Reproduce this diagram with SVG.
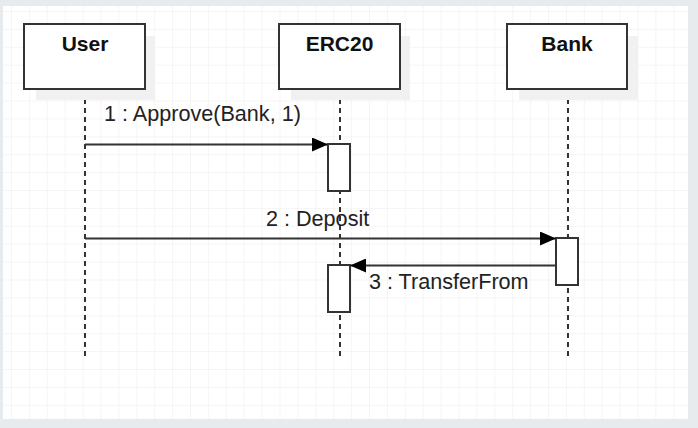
<svg xmlns="http://www.w3.org/2000/svg" width="698" height="428" viewBox="0 0 698 428">
  <defs>
    <pattern id="grid" x="11" y="11" width="17.9" height="17.9" patternUnits="userSpaceOnUse">
      <path d="M 0 0 L 17.9 0 M 0 0 L 0 17.9" fill="none" stroke="#ececec" stroke-width="1"/>
    </pattern>
    <marker id="arrow" viewBox="0 0 16 14" refX="16" refY="7" markerWidth="16" markerHeight="14" markerUnits="userSpaceOnUse" orient="auto">
      <path d="M 0 0 L 16 7 L 0 14 Z" fill="#000"/>
    </marker>
  </defs>
  <style>
    .box { fill: #fff; stroke: #333; stroke-width: 2; }
    .shadow { fill: #f1f1f1; }
    .title { font-family: "Liberation Sans", Arial, sans-serif; font-size: 21px; font-weight: bold; fill: #111; text-anchor: middle; }
    .lifeline { stroke: #333; stroke-width: 2; stroke-dasharray: 5 4; fill: none; }
    .act { fill: #fff; stroke: #333; stroke-width: 2; }
    .msg { stroke: #333; stroke-width: 2; fill: none; marker-end: url(#arrow); }
    .label { font-family: "Liberation Sans", Arial, sans-serif; font-size: 21.6px; fill: #222; }
  </style>
  <rect x="0" y="0" width="698" height="428" fill="#e8ebee"/>
  <rect x="3" y="6" width="685" height="413" fill="#fff"/>
  <rect x="3" y="6" width="685" height="413" fill="url(#grid)"/>

  <g id="lifelines">
    <line class="lifeline" x1="85" y1="90" x2="85" y2="358"/>
    <line class="lifeline" x1="340" y1="90" x2="340" y2="358"/>
    <line class="lifeline" x1="568" y1="90" x2="568" y2="358"/>
  </g>

  <g id="user">
    <rect class="shadow" x="36" y="36" width="119" height="64"/>
    <rect class="box" x="24" y="24" width="121" height="65"/>
    <text class="title" x="85" y="51">User</text>
  </g>
  <g id="erc20">
    <rect class="shadow" x="291" y="36" width="119" height="64"/>
    <rect class="box" x="279" y="24" width="121" height="65"/>
    <text class="title" x="339.5" y="51">ERC20</text>
  </g>
  <g id="bank">
    <rect class="shadow" x="519" y="36" width="119" height="64"/>
    <rect class="box" x="507" y="24" width="120" height="65"/>
    <text class="title" x="567" y="51">Bank</text>
  </g>

  <g id="erc20-activation-1">
    <rect class="act" x="328" y="144" width="22" height="47"/>
  </g>
  <g id="bank-activation">
    <rect class="act" x="556" y="238" width="22" height="47"/>
  </g>
  <g id="erc20-activation-2">
    <rect class="act" x="328" y="265" width="22" height="47"/>
  </g>

  <g id="connectors">
    <line class="msg" x1="85" y1="144.5" x2="328" y2="144.5"/>
    <line class="msg" x1="85" y1="238.5" x2="556" y2="238.5"/>
    <line class="msg" x1="556" y1="265.5" x2="350" y2="265.5"/>
    <text class="label" x="104" y="121">1 : Approve(Bank, 1)</text>
    <text class="label" x="266" y="226">2 : Deposit</text>
    <text class="label" x="369" y="289">3 : TransferFrom</text>
  </g>
</svg>
